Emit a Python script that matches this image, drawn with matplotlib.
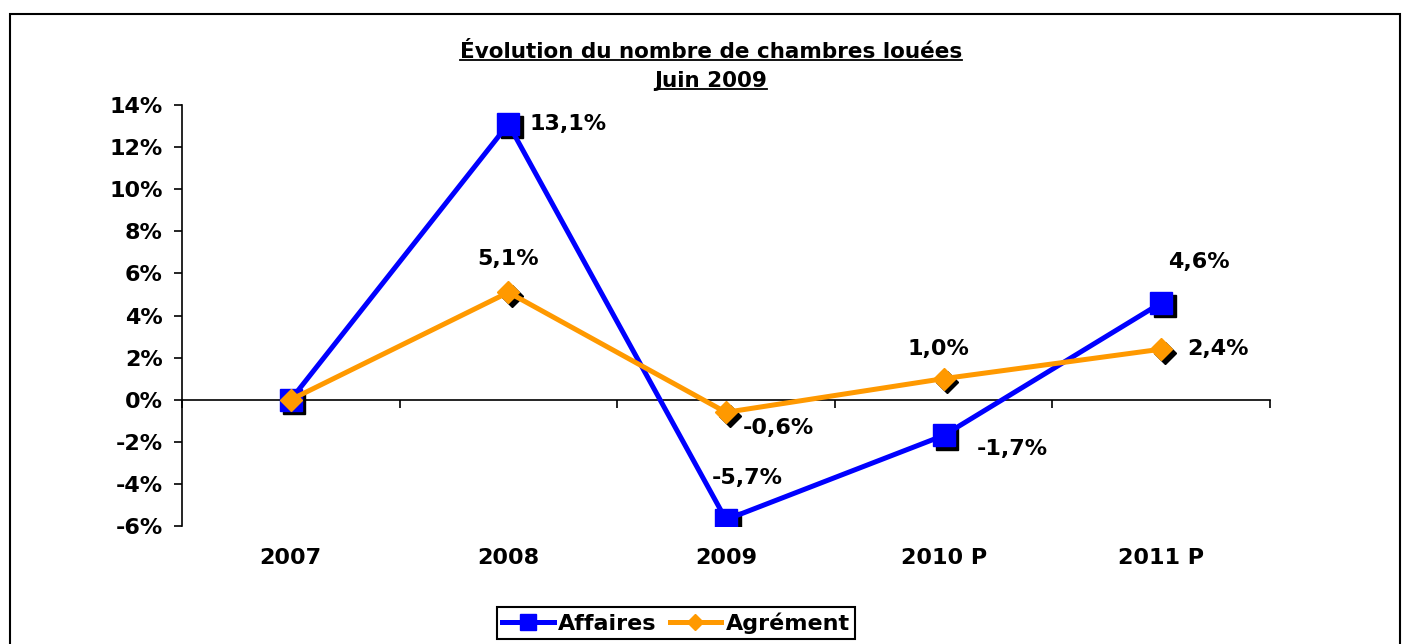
import matplotlib
matplotlib.use("Agg")
import matplotlib.pyplot as plt
from matplotlib import transforms
from matplotlib.lines import Line2D
from matplotlib.patches import Rectangle

plt.rcParams["font.family"] = "DejaVu Sans"
plt.rcParams["font.weight"] = "bold"

categories = ["2007", "2008", "2009", "2010 P", "2011 P"]
affaires = [0.0, 13.1, -5.7, -1.7, 4.6]
agrement = [0.0, 5.1, -0.6, 1.0, 2.4]
labels_affaires = ["", "13,1%", "-5,7%", "-1,7%", "4,6%"]
labels_agrement = ["", "5,1%", "-0,6%", "1,0%", "2,4%"]
yticks = [-6, -4, -2, 0, 2, 4, 6, 8, 10, 12, 14]

fig = plt.figure(figsize=(14.02, 6.44), dpi=100)
ax = fig.add_axes([182 / 1402, 1 - 526 / 644, 1088 / 1402, 421 / 644])

x = list(range(len(categories)))
shadow = transforms.offset_copy(ax.transData, fig=fig, x=3.5, y=-3.5, units="dots")

# black drop shadows under the markers
ax.plot(x, affaires, ls="none", marker="s", ms=16, color="black", transform=shadow, zorder=2)
ax.plot(x, agrement, ls="none", marker="D", ms=11.5, color="black", transform=shadow, zorder=2)

ax.plot(x, affaires, color="#0000FF", lw=3.6, marker="s", ms=16, label="Affaires", zorder=3)
ax.plot(x, agrement, color="#FF9900", lw=3.6, marker="D", ms=11.5, label="Agrément", zorder=4)

fs = 16
# data labels (offsets in points)
aff_off = [None, (15, 0, "left", "center"), (15, 23, "center", "bottom"),
           (24, -10, "left", "center"), (27, 22, "center", "bottom")]
agr_off = [None, (0, 17, "center", "bottom"), (12, -11, "left", "center"),
           (-4, 14, "center", "bottom"), (19, 0, "left", "center")]
for xs, ys, labs, offs in [(x, affaires, labels_affaires, aff_off),
                           (x, agrement, labels_agrement, agr_off)]:
    for xi, yi, lab, off in zip(xs, ys, labs, offs):
        if not lab:
            continue
        dx, dy, ha, va = off
        ax.annotate(lab, (xi, yi), xytext=(dx, dy), textcoords="offset points",
                    ha=ha, va=va, fontsize=fs, fontweight="bold", zorder=5)

ax.set_xlim(-0.5, len(categories) - 0.5)
ax.set_ylim(-6, 14)
ax.set_yticks(yticks)
ax.set_yticklabels([f"{t}%" for t in yticks], fontsize=fs, fontweight="bold")
ax.tick_params(axis="y", direction="out", length=6, width=1.2, pad=8)

for s in ["top", "right"]:
    ax.spines[s].set_visible(False)
ax.spines["left"].set_linewidth(1.2)
ax.spines["bottom"].set_position(("data", 0))
ax.spines["bottom"].set_linewidth(1.2)
ax.set_xticks([i - 0.5 for i in range(len(categories) + 1)])
ax.set_xticklabels([])
ax.tick_params(axis="x", direction="out", length=6, width=1.2)

sec = ax.secondary_xaxis("bottom")
sec.set_xticks(x)
sec.set_xticklabels(categories, fontsize=fs, fontweight="bold")
sec.spines["bottom"].set_visible(False)
sec.tick_params(length=0, pad=16)

leg = fig.legend(loc="center", bbox_to_anchor=(676 / 1402, 1 - 623 / 644), ncol=2,
                 prop={"size": fs, "weight": "bold"}, fancybox=False, edgecolor="black",
                 framealpha=1, handlelength=2.3, handletextpad=0.2, columnspacing=0.6,
                 borderpad=0.25, borderaxespad=0, markerscale=0.7)
leg.get_frame().set_linewidth(1.5)

# outer chart border
fig.add_artist(Rectangle((10 / 1402, -0.1), 1390 / 1402, 1.1 - 14 / 644,
                         transform=fig.transFigure, fill=False, lw=1.5, edgecolor="black"))

# underlined two-line title
t1 = fig.text(711 / 1402, 1 - 52 / 644, "Évolution du nombre de chambres louées",
              ha="center", va="center", fontsize=15.5, fontweight="bold")
t2 = fig.text(711 / 1402, 1 - 81 / 644, "Juin 2009",
              ha="center", va="center", fontsize=15.5, fontweight="bold")
fig.canvas.draw()
r = fig.canvas.get_renderer()
for t in (t1, t2):
    bb = t.get_window_extent(r)
    yl = bb.y0 + 2
    fig.add_artist(Line2D([bb.x0, bb.x1], [yl, yl], transform=None, color="black", lw=1.3))

fig.savefig("out.png", dpi=100)
